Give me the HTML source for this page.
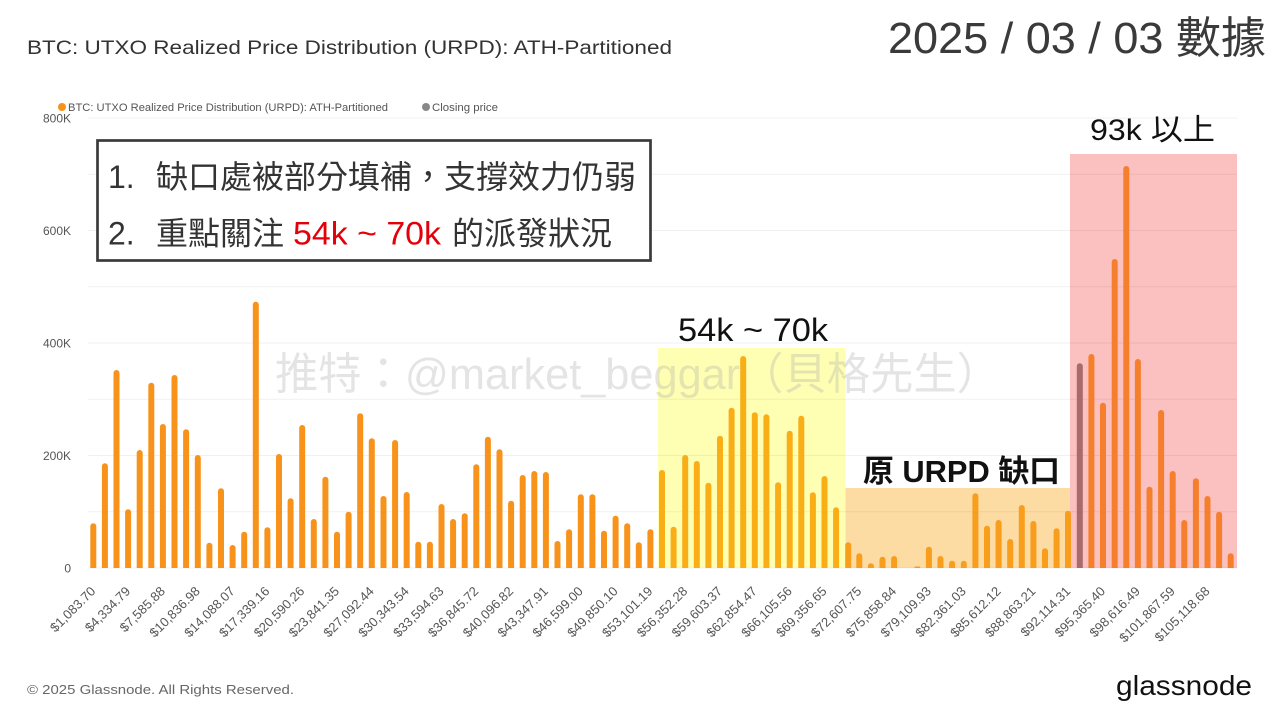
<!DOCTYPE html>
<html>
<head>
<meta charset="utf-8">
<style>
  html,body{margin:0;padding:0;background:#fff;}
  svg{display:block;}
</style>
</head>
<body>
<svg width="1280" height="720" viewBox="0 0 1280 720" xmlns="http://www.w3.org/2000/svg">
  <defs>
    <clipPath id="c"><rect x="0" y="0" width="1280" height="568"/></clipPath>
  </defs>
  <rect x="0" y="0" width="1280" height="720" fill="#fff"/>

  <!-- Title -->
  <text x="27" y="54" font-family="Liberation Sans, sans-serif" font-size="19" fill="#333" textLength="645" lengthAdjust="spacingAndGlyphs">BTC: UTXO Realized Price Distribution (URPD): ATH-Partitioned</text>
  <!-- Date -->
  <text x="888" y="53" font-family="Liberation Sans, 'Noto Sans CJK TC', sans-serif" font-size="44" fill="#3a3a3a" textLength="378" lengthAdjust="spacingAndGlyphs">2025 / 03 / 03 數據</text>

  <!-- Legend -->
  <circle cx="62" cy="107" r="4" fill="#F7931A"/>
  <text x="68" y="111" font-family="Liberation Sans, sans-serif" font-size="11" fill="#555" textLength="320" lengthAdjust="spacingAndGlyphs">BTC: UTXO Realized Price Distribution (URPD): ATH-Partitioned</text>
  <circle cx="426" cy="107" r="4" fill="#888"/>
  <text x="432" y="111" font-family="Liberation Sans, sans-serif" font-size="11" fill="#555" textLength="66" lengthAdjust="spacingAndGlyphs">Closing price</text>

  <!-- Region backgrounds -->
  <rect x="658" y="348" width="187.5" height="220" fill="#FFFFB3"/>
  <rect x="845.5" y="488" width="224.5" height="80" fill="#FDDCA3"/>
  <rect x="1070" y="154" width="167" height="414" fill="#FBC0C0"/>

  <!-- Gridlines -->
  <g stroke="#000" stroke-opacity="0.06" stroke-width="1">
    <line x1="88" y1="118" x2="1237" y2="118"/>
    <line x1="88" y1="174.25" x2="1237" y2="174.25"/>
    <line x1="88" y1="230.5" x2="1237" y2="230.5"/>
    <line x1="88" y1="286.75" x2="1237" y2="286.75"/>
    <line x1="88" y1="343" x2="1237" y2="343"/>
    <line x1="88" y1="399.25" x2="1237" y2="399.25"/>
    <line x1="88" y1="455.5" x2="1237" y2="455.5"/>
    <line x1="88" y1="511.75" x2="1237" y2="511.75"/>
    <line x1="88" y1="568" x2="1237" y2="568"/>
  </g>

  <!-- Y labels -->
  <g font-family="Liberation Sans, sans-serif" font-size="12" fill="#555" text-anchor="end">
    <text x="71" y="122.3">800K</text>
    <text x="71" y="234.8">600K</text>
    <text x="71" y="347.3">400K</text>
    <text x="71" y="459.8">200K</text>
    <text x="71" y="572.3">0</text>
  </g>

  <!-- Bars -->
  <g clip-path="url(#c)">
    <g fill="#F7931A">
      <rect x="90.3" y="523.3" width="6" height="50" rx="3"/>
      <rect x="101.9" y="463.3" width="6" height="110" rx="3"/>
      <rect x="113.5" y="370" width="6" height="203" rx="3"/>
      <rect x="125.1" y="509.3" width="6" height="64" rx="3"/>
      <rect x="136.7" y="450" width="6" height="123" rx="3"/>
      <rect x="148.3" y="382.7" width="6" height="190" rx="3"/>
      <rect x="159.9" y="424" width="6" height="149" rx="3"/>
      <rect x="171.5" y="375" width="6" height="198" rx="3"/>
      <rect x="183.1" y="429.3" width="6" height="144" rx="3"/>
      <rect x="194.8" y="455" width="6" height="118" rx="3"/>
      <rect x="206.4" y="542.7" width="6" height="31" rx="3"/>
      <rect x="218.0" y="488.3" width="6" height="85" rx="3"/>
      <rect x="229.6" y="545" width="6" height="28" rx="3"/>
      <rect x="241.2" y="531.7" width="6" height="42" rx="3"/>
      <rect x="252.8" y="301.7" width="6" height="272" rx="3"/>
      <rect x="264.4" y="527.3" width="6" height="46" rx="3"/>
      <rect x="276.0" y="454" width="6" height="119" rx="3"/>
      <rect x="287.6" y="498.3" width="6" height="75" rx="3"/>
      <rect x="299.2" y="425" width="6" height="148" rx="3"/>
      <rect x="310.8" y="519" width="6" height="54" rx="3"/>
      <rect x="322.4" y="476.7" width="6" height="97" rx="3"/>
      <rect x="334.0" y="531.7" width="6" height="42" rx="3"/>
      <rect x="345.6" y="511.7" width="6" height="62" rx="3"/>
      <rect x="357.2" y="413.3" width="6" height="160" rx="3"/>
      <rect x="368.8" y="438.3" width="6" height="135" rx="3"/>
      <rect x="380.5" y="496" width="6" height="77" rx="3"/>
      <rect x="392.1" y="440" width="6" height="133" rx="3"/>
      <rect x="403.7" y="492" width="6" height="81" rx="3"/>
      <rect x="415.3" y="541.7" width="6" height="32" rx="3"/>
      <rect x="426.9" y="541.7" width="6" height="32" rx="3"/>
      <rect x="438.5" y="504" width="6" height="69" rx="3"/>
      <rect x="450.1" y="519" width="6" height="54" rx="3"/>
      <rect x="461.7" y="513.3" width="6" height="60" rx="3"/>
      <rect x="473.3" y="464.3" width="6" height="109" rx="3"/>
      <rect x="484.9" y="436.7" width="6" height="137" rx="3"/>
      <rect x="496.5" y="449.3" width="6" height="124" rx="3"/>
      <rect x="508.1" y="500.7" width="6" height="73" rx="3"/>
      <rect x="519.7" y="475" width="6" height="98" rx="3"/>
      <rect x="531.3" y="471" width="6" height="102" rx="3"/>
      <rect x="542.9" y="472" width="6" height="101" rx="3"/>
      <rect x="554.5" y="541" width="6" height="32" rx="3"/>
      <rect x="566.1" y="529.3" width="6" height="44" rx="3"/>
      <rect x="577.8" y="494.3" width="6" height="79" rx="3"/>
      <rect x="589.4" y="494.3" width="6" height="79" rx="3"/>
      <rect x="601.0" y="530.7" width="6" height="43" rx="3"/>
      <rect x="612.6" y="515.7" width="6" height="58" rx="3"/>
      <rect x="624.2" y="523.3" width="6" height="50" rx="3"/>
      <rect x="635.8" y="542.3" width="6" height="31" rx="3"/>
      <rect x="647.4" y="529.3" width="6" height="44" rx="3"/>
    </g>
    <g fill="#F9AE17">
      <rect x="659.0" y="470" width="6" height="103" rx="3"/>
      <rect x="670.6" y="526.7" width="6" height="47" rx="3"/>
      <rect x="682.2" y="455" width="6" height="118" rx="3"/>
      <rect x="693.8" y="461" width="6" height="112" rx="3"/>
      <rect x="705.4" y="482.7" width="6" height="90" rx="3"/>
      <rect x="717.0" y="435.7" width="6" height="137" rx="3"/>
      <rect x="728.6" y="407.7" width="6" height="165" rx="3"/>
      <rect x="740.2" y="356" width="6" height="217" rx="3"/>
      <rect x="751.8" y="412.3" width="6" height="161" rx="3"/>
      <rect x="763.4" y="414.3" width="6" height="159" rx="3"/>
      <rect x="775.1" y="482.3" width="6" height="91" rx="3"/>
      <rect x="786.7" y="430.7" width="6" height="142" rx="3"/>
      <rect x="798.3" y="415.7" width="6" height="157" rx="3"/>
      <rect x="809.9" y="492.3" width="6" height="81" rx="3"/>
      <rect x="821.5" y="476" width="6" height="97" rx="3"/>
      <rect x="833.1" y="507.3" width="6" height="66" rx="3"/>
    </g>
    <g fill="#F89D1C">
      <rect x="845.2" y="542.3" width="6" height="31" rx="3"/>
      <rect x="856.3" y="553.3" width="6" height="20" rx="3"/>
      <rect x="867.9" y="563.3" width="6" height="10" rx="3"/>
      <rect x="879.5" y="556.7" width="6" height="17" rx="3"/>
      <rect x="891.1" y="556" width="6" height="17" rx="3"/>
      <rect x="914.3" y="566.5" width="6" height="7" rx="1"/>
      <rect x="925.9" y="546.7" width="6" height="27" rx="3"/>
      <rect x="937.5" y="556" width="6" height="17" rx="3"/>
      <rect x="949.1" y="560.7" width="6" height="13" rx="3"/>
      <rect x="960.8" y="560.7" width="6" height="13" rx="3"/>
      <rect x="972.4" y="493.3" width="6" height="80" rx="3"/>
      <rect x="984.0" y="525.7" width="6" height="48" rx="3"/>
      <rect x="995.6" y="520" width="6" height="53" rx="3"/>
      <rect x="1007.2" y="539" width="6" height="34" rx="3"/>
      <rect x="1018.8" y="505" width="6" height="68" rx="3"/>
      <rect x="1030.4" y="521" width="6" height="52" rx="3"/>
      <rect x="1042.0" y="548.3" width="6" height="25" rx="3"/>
      <rect x="1053.6" y="528.3" width="6" height="45" rx="3"/>
      <rect x="1065.0" y="510.7" width="6" height="62" rx="3"/>
    </g>
    <rect x="1076.8" y="363.3" width="6" height="210" rx="3" fill="#A86A6A"/>
    <g fill="#F67F2D">
      <rect x="1088.4" y="354" width="6" height="219" rx="3"/>
      <rect x="1100.0" y="402.7" width="6" height="170" rx="3"/>
      <rect x="1111.7" y="259" width="6" height="314" rx="3"/>
      <rect x="1123.3" y="166" width="6" height="407" rx="3"/>
      <rect x="1134.9" y="359" width="6" height="214" rx="3"/>
      <rect x="1146.5" y="486.7" width="6" height="86" rx="3"/>
      <rect x="1158.1" y="410" width="6" height="163" rx="3"/>
      <rect x="1169.7" y="471" width="6" height="102" rx="3"/>
      <rect x="1181.3" y="520" width="6" height="53" rx="3"/>
      <rect x="1192.9" y="478.3" width="6" height="95" rx="3"/>
      <rect x="1204.5" y="496" width="6" height="77" rx="3"/>
      <rect x="1216.1" y="511.7" width="6" height="62" rx="3"/>
      <rect x="1227.7" y="553.3" width="6" height="20" rx="3"/>
    </g>
  </g>

  <!-- X labels -->
  <g font-family="Liberation Sans, sans-serif" font-size="13" fill="#555" text-anchor="end">
    <text transform="translate(96.3,592) rotate(-45)">$1,083.70</text>
    <text transform="translate(131.1,592) rotate(-45)">$4,334.79</text>
    <text transform="translate(165.9,592) rotate(-45)">$7,585.88</text>
    <text transform="translate(200.8,592) rotate(-45)">$10,836.98</text>
    <text transform="translate(235.6,592) rotate(-45)">$14,088.07</text>
    <text transform="translate(270.4,592) rotate(-45)">$17,339.16</text>
    <text transform="translate(305.2,592) rotate(-45)">$20,590.26</text>
    <text transform="translate(340.0,592) rotate(-45)">$23,841.35</text>
    <text transform="translate(374.8,592) rotate(-45)">$27,092.44</text>
    <text transform="translate(409.7,592) rotate(-45)">$30,343.54</text>
    <text transform="translate(444.5,592) rotate(-45)">$33,594.63</text>
    <text transform="translate(479.3,592) rotate(-45)">$36,845.72</text>
    <text transform="translate(514.1,592) rotate(-45)">$40,096.82</text>
    <text transform="translate(548.9,592) rotate(-45)">$43,347.91</text>
    <text transform="translate(583.8,592) rotate(-45)">$46,599.00</text>
    <text transform="translate(618.6,592) rotate(-45)">$49,850.10</text>
    <text transform="translate(653.4,592) rotate(-45)">$53,101.19</text>
    <text transform="translate(688.2,592) rotate(-45)">$56,352.28</text>
    <text transform="translate(723.0,592) rotate(-45)">$59,603.37</text>
    <text transform="translate(757.8,592) rotate(-45)">$62,854.47</text>
    <text transform="translate(792.7,592) rotate(-45)">$66,105.56</text>
    <text transform="translate(827.5,592) rotate(-45)">$69,356.65</text>
    <text transform="translate(862.3,592) rotate(-45)">$72,607.75</text>
    <text transform="translate(897.1,592) rotate(-45)">$75,858.84</text>
    <text transform="translate(931.9,592) rotate(-45)">$79,109.93</text>
    <text transform="translate(966.8,592) rotate(-45)">$82,361.03</text>
    <text transform="translate(1001.6,592) rotate(-45)">$85,612.12</text>
    <text transform="translate(1036.4,592) rotate(-45)">$88,863.21</text>
    <text transform="translate(1071.2,592) rotate(-45)">$92,114.31</text>
    <text transform="translate(1106.0,592) rotate(-45)">$95,365.40</text>
    <text transform="translate(1140.9,592) rotate(-45)">$98,616.49</text>
    <text transform="translate(1175.7,592) rotate(-45)">$101,867.59</text>
    <text transform="translate(1210.5,592) rotate(-45)">$105,118.68</text>
  </g>

  <!-- Watermark -->
  <text x="275" y="389" font-family="Liberation Sans, 'Noto Sans CJK TC', sans-serif" font-size="44" fill="#aaa" fill-opacity="0.32" textLength="725" lengthAdjust="spacingAndGlyphs">推特：@market_beggar（貝格先生）</text>

  <!-- Annotations -->
  <text x="678" y="341" font-family="Liberation Sans, 'Noto Sans CJK TC', sans-serif" font-size="32" fill="#111" textLength="150" lengthAdjust="spacingAndGlyphs">54k ~ 70k</text>
  <text x="1090" y="140" font-family="Liberation Sans, 'Noto Sans CJK TC', sans-serif" font-size="30" fill="#111" textLength="125" lengthAdjust="spacingAndGlyphs">93k 以上</text>
  <text x="863" y="482" font-family="Liberation Sans, 'Noto Sans CJK TC', sans-serif" font-size="31" font-weight="600" fill="#111" textLength="197" lengthAdjust="spacingAndGlyphs">原 URPD 缺口</text>

  <!-- Box -->
  <rect x="97.5" y="140.5" width="553" height="120" fill="#fff" stroke="#3a3a3a" stroke-width="2.7"/>
  <g font-family="Liberation Sans, 'Noto Sans CJK TC', sans-serif" font-size="32" fill="#333">
    <text x="108" y="188">1.</text>
    <text x="156" y="188" textLength="480" lengthAdjust="spacingAndGlyphs">缺口處被部分填補，支撐效力仍弱</text>
    <text x="108" y="244.5">2.</text>
    <text x="156" y="244.5" textLength="128" lengthAdjust="spacingAndGlyphs">重點關注</text>
    <text x="293" y="244.5" fill="#E3000B" textLength="148" lengthAdjust="spacingAndGlyphs">54k ~ 70k</text>
    <text x="452" y="244.5" textLength="160" lengthAdjust="spacingAndGlyphs">的派發狀況</text>
  </g>

  <!-- Footer -->
  <text x="27" y="694" font-family="Liberation Sans, sans-serif" font-size="13" fill="#666" textLength="267" lengthAdjust="spacingAndGlyphs">© 2025 Glassnode. All Rights Reserved.</text>
  <text x="1116" y="695" font-family="Liberation Sans, sans-serif" font-size="28" fill="#111" textLength="136" lengthAdjust="spacingAndGlyphs">glassnode</text>
</svg>
</body>
</html>
